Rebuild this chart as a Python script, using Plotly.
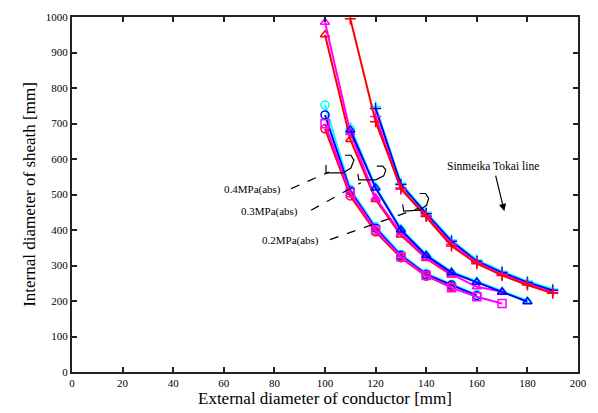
import plotly.graph_objects as go

# ---- data ----
# right group (+ markers)
xr_red = [110, 120, 130, 140, 150, 160, 170, 180, 190]
yr_red = [995, 705, 518, 438, 355, 305, 272, 245, 222]
xr = [120, 130, 140, 150, 160, 170, 180, 190]
yr_mag = [720, 515, 440, 360, 308, 275, 248, 224]
yr_blue = [742, 528, 446, 368, 312, 280, 252, 230]
yr_cyan = [748, 532, 450, 372, 316, 284, 256, 234]

# middle group (triangles) 0.3MPa
xm_mag = [100, 110, 120, 130, 140, 150, 160, 170]
ym_mag = [985, 675, 490, 392, 322, 276, 240, 226]
xm_red = [100, 110, 120, 130, 140, 150]
ym_red = [950, 655, 486, 386, 320, 273]
xm = [110, 120, 130, 140, 150, 160, 170, 180]
ym_blue = [682, 518, 400, 328, 280, 253, 225, 198]
ym_cyan = [690, 522, 404, 332, 283, 256, 228, 201]

# lower group (circles/squares) 0.2MPa
xl = [100, 110, 120, 130, 140, 150, 160]
yl_cyan = [752, 515, 410, 332, 278, 247, 218]
yl_blue = [724, 510, 405, 328, 275, 245, 215]
xl_mag = [100, 110, 120, 130, 140, 150, 160, 170]
yl_mag = [699, 505, 400, 325, 272, 237, 212, 193]
xl_red = [100, 110, 120, 130, 140, 150]
yl_red = [685, 496, 395, 322, 270, 240]

x_ticks = list(range(0, 201, 20))
y_ticks = list(range(0, 1001, 100))

RED, MAG, BLUE, CYAN = "#ff0000", "#ff00ff", "#0000ff", "#00ffff"

fig = go.Figure()

def add(x, y, color, symbol):
    fig.add_trace(go.Scatter(
        x=x, y=y, mode="lines+markers",
        line=dict(color=color, width=2),
        marker=dict(symbol=symbol, size=8, color=color,
                    line=dict(color=color, width=1.5)),
        showlegend=False, hoverinfo="skip"))

# lower group
add(xl, yl_cyan, CYAN, "circle-open")
add(xl, yl_blue, BLUE, "circle-open")
add(xl_red, yl_red, RED, "circle-open")
add(xl_mag, yl_mag, MAG, "square-open")
# middle group
add(xm, ym_cyan, CYAN, "triangle-up-open")
add(xm_red, ym_red, RED, "triangle-up-open")
add(xm_mag, ym_mag, MAG, "triangle-up-open")
add(xm, ym_blue, BLUE, "triangle-up-open")
# right group
add(xr, yr_cyan, CYAN, "cross-thin-open")
add(xr, yr_blue, BLUE, "cross-thin-open")
add(xr, yr_mag, MAG, "cross-thin-open")
add(xr_red, yr_red, RED, "cross-thin-open")

# pixel -> paper helpers for annotations
L, R, T, B = 72, 580, 11, 373
def px(x):
    return (x - L) / (R - L)
def py(y):
    return (B - y) / (B - T)

def path(points):
    return "M " + " L ".join(f"{px(a):.4f},{py(b):.4f}" for a, b in points)

shapes = []
dash = dict(color="black", width=1.2, dash="dash")
solid = dict(color="black", width=1.2)
# leader lines
for pts in ([(292, 186), (330, 169)], [(312, 208), (362, 180)], [(331, 238), (420, 206)]):
    shapes.append(dict(type="path", xref="paper", yref="paper", path=path(pts), line=dash))
# brackets
for pts in ([(327, 162), (327, 170), (344, 170), (352, 165), (355, 157), (352, 152), (346, 152)],
            [(359, 171), (360, 177), (377, 177), (385, 173), (387, 167), (384, 163), (378, 163)],
            [(404, 202), (405, 209), (421, 208), (428, 203), (430, 196), (427, 191), (421, 191)]):
    shapes.append(dict(type="path", xref="paper", yref="paper", path=path(pts), line=solid))

font_s = dict(family="Liberation Serif", size=11, color="black")
annotations = [
    dict(x=px(253), y=py(187), text="0.4MPa(abs)"),
    dict(x=px(270), y=py(209), text="0.3MPa(abs)"),
    dict(x=px(291), y=py(239), text="0.2MPa(abs)"),
    dict(x=px(495), y=py(163), text="Sinmeika Tokai line", font=dict(family="Liberation Serif", size=11.5, color="black")),
]
for a in annotations:
    a.setdefault("font", font_s)
    a.update(xref="paper", yref="paper", showarrow=False,
             xanchor="center", yanchor="middle")
annotations.append(dict(xref="paper", yref="paper", x=px(506), y=py(209), text="",
                        showarrow=True, ax=-9, ay=-37, arrowhead=2, arrowsize=1.2,
                        arrowwidth=1.2, arrowcolor="black"))

axis_common = dict(showgrid=False, zeroline=False, showline=True, linecolor="#222",
                   linewidth=2, mirror="ticks", ticks="inside", ticklen=5,
                   tickwidth=1.5, tickcolor="#222",
                   tickfont=dict(family="Liberation Serif", size=11, color="black"))

fig.update_layout(
    width=598, height=413,
    margin=dict(l=72, r=18, t=11, b=40),
    paper_bgcolor="white", plot_bgcolor="white",
    shapes=shapes, annotations=annotations,
    xaxis=dict(range=[0, 200], tickvals=x_ticks, **axis_common,
               title=dict(text="External diameter of conductor [mm]", standoff=1,
                          font=dict(family="Liberation Serif", size=17, color="black"))),
    yaxis=dict(range=[0, 1000], tickvals=y_ticks, **axis_common,
               title=dict(text="Internal diameter of sheath [mm]", standoff=6,
                          font=dict(family="Liberation Serif", size=17, color="black"))),
)

fig.write_html("out.html")
